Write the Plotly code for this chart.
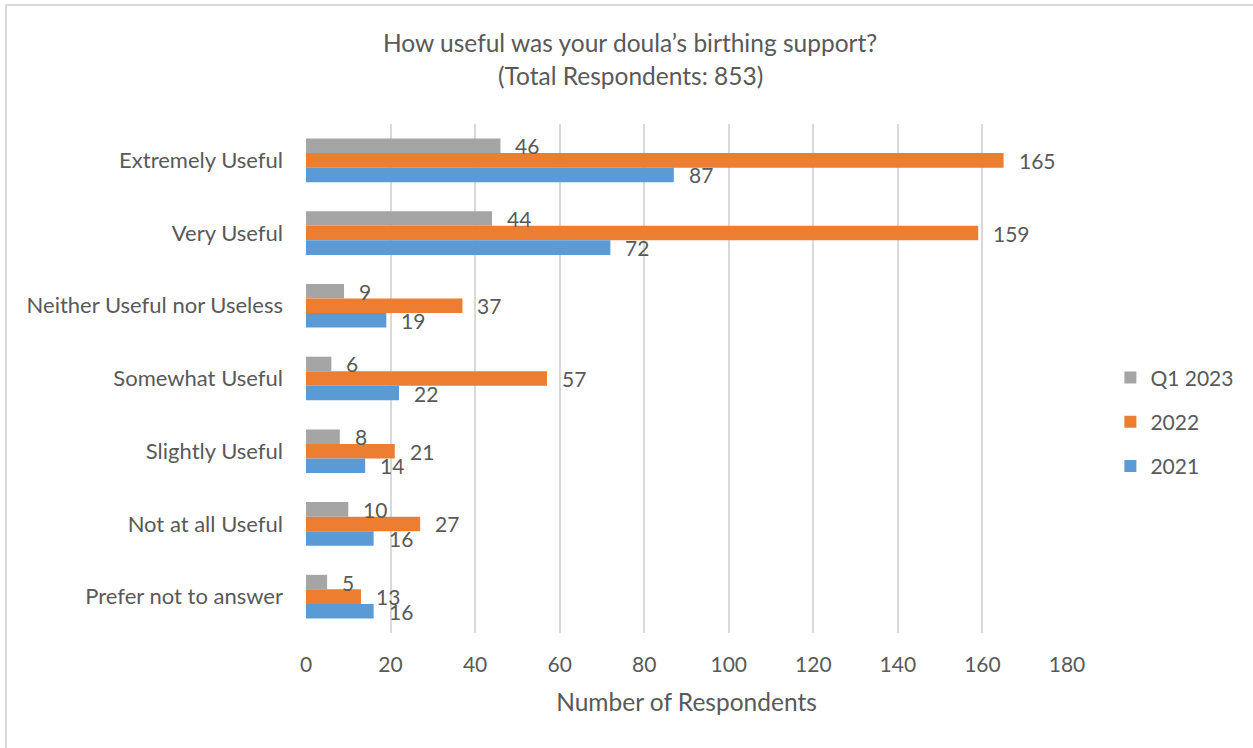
import plotly.graph_objects as go

# Survey responses by usefulness rating (top to bottom)
categories = [
    "Extremely Useful",
    "Very Useful",
    "Neither Useful nor Useless",
    "Somewhat Useful",
    "Slightly Useful",
    "Not at all Useful",
    "Prefer not to answer",
]
q1_2023 = [46, 44, 9, 6, 8, 10, 5]
y2022 = [165, 159, 37, 57, 21, 27, 13]
y2021 = [87, 72, 19, 22, 14, 16, 16]

x_ticks = [0, 20, 40, 60, 80, 100, 120, 140, 160, 180]

title_lines = ["How useful was your doula’s birthing support?",
               "(Total Respondents: 853)"]

series = [
    ("Q1 2023", q1_2023, "#A5A5A5"),
    ("2022", y2022, "#ED7D31"),
    ("2021", y2021, "#5B9BD5"),
]

FONT = "Lato"
TEXT = "#595959"

# plot-area geometry (pixels)
W, H = 1253, 748
ML, MR, MT, MB = 306, 186, 124, 115
pw = W - ML - MR
ph = H - MT - MB
slot = ph / len(categories)
bargap = 0.4
bar_px = slot * (1 - bargap) / len(series)

fig = go.Figure()
for i, (name, vals, color) in enumerate(series):
    fig.add_trace(go.Bar(
        y=categories, x=vals, orientation="h", name=name,
        marker=dict(color=color, line=dict(width=0)),
        legendgroup=name,
    ))
    # value labels just past the end of each bar
    shift = (1 - i) * bar_px
    for cat, v in zip(categories, vals):
        fig.add_annotation(
            x=v, y=cat, text=str(v), showarrow=False,
            xanchor="left", yanchor="middle", xshift=13, yshift=shift,
            font=dict(family=FONT, size=21, color=TEXT),
        )

# two-line chart title
for k, (line, ypx) in enumerate(zip(title_lines, [43, 75])):
    fig.add_annotation(
        xref="paper", yref="paper",
        x=(630 - ML) / pw, y=1 + (MT - ypx) / ph,
        text=line, showarrow=False, xanchor="center", yanchor="middle",
        font=dict(family=FONT, size=24.5, color=TEXT),
    )

# outer chart border (top and left edges visible)
fig.add_shape(
    type="rect", xref="paper", yref="paper",
    x0=(6 - ML) / pw, x1=(W + 20 - ML) / pw,
    y0=-(H + 20 - MT - ph) / ph, y1=1 + (MT - 5) / ph,
    line=dict(color="#D9D9D9", width=2), layer="below",
)

fig.update_layout(
    width=W, height=H,
    margin=dict(l=ML, r=MR, t=MT, b=MB, pad=0),
    paper_bgcolor="white", plot_bgcolor="white",
    barmode="group", bargap=bargap, bargroupgap=0,
    font=dict(family=FONT, size=20, color=TEXT),
    xaxis=dict(
        range=[0, 180], tickvals=x_ticks, ticktext=[str(t) for t in x_ticks],
        showgrid=True, gridcolor="#D9D9D9", gridwidth=1.5,
        zeroline=False, showline=False, ticks="",
        tickfont=dict(family=FONT, size=21, color=TEXT),
        ticklabelstandoff=17,
        title=dict(text="Number of Respondents", standoff=18,
                   font=dict(family=FONT, size=24.5, color=TEXT)),
        fixedrange=True,
    ),
    yaxis=dict(
        autorange="reversed", showgrid=False, zeroline=False,
        showline=False, ticks="", ticklabelstandoff=22,
        tickfont=dict(family=FONT, size=22, color=TEXT),
    ),
    legend=dict(
        x=1.057, xanchor="left", y=0.415, yanchor="middle",
        traceorder="grouped", tracegroupgap=14,
        font=dict(family=FONT, size=21, color=TEXT),
        itemwidth=30,
    ),
    showlegend=True,
)

fig.write_html("out.html")
